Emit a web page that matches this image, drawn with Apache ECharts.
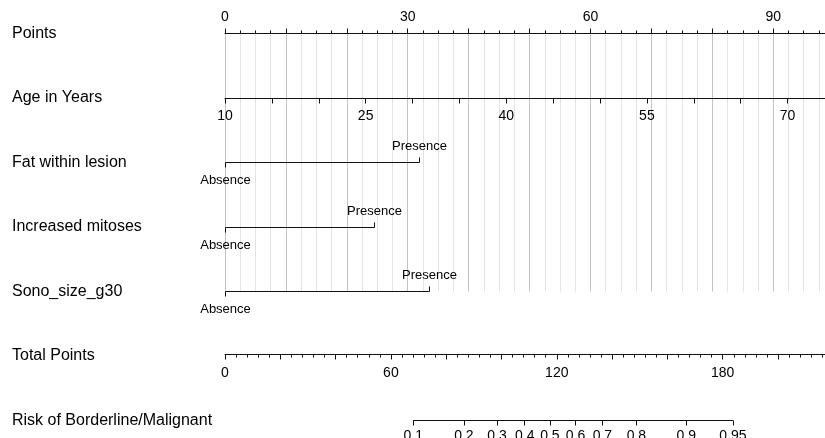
<!DOCTYPE html>
<html>
<head>
<meta charset="utf-8">
<script src="https://cdn.jsdelivr.net/npm/echarts@6/dist/echarts.min.js"></script>
<style>
  html, body { margin: 0; padding: 0; background: #fff; }
  #chart { width: 825px; height: 438px; }
</style>
</head>
<body>
<div id="chart"></div>
<script>
// ---- Nomogram rows ----
const rowNames = ['Points', 'Age in Years', 'Fat within lesion', 'Increased mitoses', 'Sono_size_g30'];
const totalRowName = 'Total Points';
const riskRowName = 'Risk of Borderline/Malignant';

// ---- Points scale ----
const pointsMax = 98.5;
const pointsLabels = [0, 30, 60, 90];

// ---- Age in years (10 years = 0 points) ----
const ageMin = 10;
const ageMax = 74;
const ageLabels = [10, 25, 40, 55, 70];

// ---- Categorical predictors: points for [Absence, Presence] ----
const catLevels = ['Absence', 'Presence'];
const fatPoints = [0, 32];
const mitosesPoints = [0, 24.5];
const sonoPoints = [0, 33.5];

// ---- Total points scale ----
const totalMax = 217;
const totalLabels = [0, 60, 120, 180];

// ---- Predicted risk and where it falls on the total points scale ----
const riskLabels = ['0.1', '0.2', '0.3', '0.4', '0.5', '0.6', '0.7', '0.8', '0.9', '0.95'];
const riskTotalPoints = [68.1, 86.4, 98.4, 108.4, 117.5, 126.8, 136.5, 148.8, 166.8, 183.7];

// ---- Styling ----
const FONT = 'Arial, "Liberation Sans", Helvetica, sans-serif';
const INK = '#111';
const LEFT = 225;
const TICK_FONT = 14;
const NAME_FONT = 16;
const LEVEL_FONT = 13;

function scaleAxis(extra) {
  return Object.assign({
    type: 'value',
    axisLine: { show: true, lineStyle: { color: INK, width: 1 } },
    axisTick: { show: true, length: 5, lineStyle: { color: INK, width: 1 } },
    axisLabel: { color: '#000', fontSize: TICK_FONT, fontFamily: FONT },
    splitLine: { show: false }
  }, extra);
}

const chart = echarts.init(document.getElementById('chart'), null, { renderer: 'canvas' });

const predictorRows = [
  [fatPoints[0], fatPoints[1], rowNames.indexOf('Fat within lesion')],
  [mitosesPoints[0], mitosesPoints[1], rowNames.indexOf('Increased mitoses')],
  [sonoPoints[0], sonoPoints[1], rowNames.indexOf('Sono_size_g30')]
];

const crisp = v => Math.round(v - 0.5) + 0.5;

const option = {
  animation: false,
  backgroundColor: '#fff',
  grid: [
    { left: LEFT, right: 0, top: 33.5, height: 258, outerBoundsMode: 'none' },
    { left: LEFT, right: 0, top: 97.5, height: 1, outerBoundsMode: 'none' },
    { left: LEFT, right: 0, top: 353.5, height: 1, outerBoundsMode: 'none' },
    { left: LEFT, right: 0, top: 419.5, height: 1, outerBoundsMode: 'none' }
  ],
  xAxis: [
    scaleAxis({
      gridIndex: 0, position: 'top', min: 0, max: pointsMax, interval: 10,
      minorTick: { show: true, splitNumber: 4, length: 3, lineStyle: { color: INK } },
      axisLabel: { customValues: pointsLabels, margin: 9, color: '#000', fontSize: TICK_FONT, fontFamily: FONT },
      splitLine: { show: true, lineStyle: { color: '#c2c2c2', width: 1 } },
      minorSplitLine: { show: true, lineStyle: { color: '#e3e3e3', width: 1 } }
    }),
    scaleAxis({
      gridIndex: 1, position: 'bottom', min: ageMin, max: ageMax, interval: 5,
      axisLabel: { customValues: ageLabels, margin: 11, color: '#000', fontSize: TICK_FONT, fontFamily: FONT }
    }),
    scaleAxis({
      gridIndex: 2, position: 'bottom', min: 0, max: totalMax, interval: 20,
      minorTick: { show: true, splitNumber: 5, length: 3, lineStyle: { color: INK } },
      axisLabel: { customValues: totalLabels, margin: 12, color: '#000', fontSize: TICK_FONT, fontFamily: FONT }
    }),
    scaleAxis({
      gridIndex: 3, position: 'bottom', min: 0, max: totalMax,
      axisLine: { show: false },
      axisTick: { show: true, customValues: riskTotalPoints, length: 5, lineStyle: { color: INK } },
      axisLabel: {
        customValues: riskTotalPoints, margin: 9, color: '#000', fontSize: TICK_FONT, fontFamily: FONT,
        formatter: function (v) {
          let best = 0;
          riskTotalPoints.forEach((p, i) => { if (Math.abs(p - v) < Math.abs(riskTotalPoints[best] - v)) best = i; });
          return riskLabels[best];
        }
      }
    })
  ],
  yAxis: [
    {
      gridIndex: 0, type: 'category', data: rowNames, inverse: true, boundaryGap: false,
      axisLine: { show: false }, axisTick: { show: false }, splitLine: { show: false },
      axisLabel: { align: 'left', margin: LEFT - 12, padding: [3, 0, 0, 0], color: '#000', fontSize: NAME_FONT, fontFamily: FONT }
    },
    { gridIndex: 1, type: 'value', min: 0, max: 1, show: false },
    { gridIndex: 2, type: 'value', min: 0, max: 1, show: false },
    { gridIndex: 3, type: 'value', min: 0, max: 1, show: false }
  ],
  graphic: [
    { type: 'text', x: 12, y: 355.5, style: { text: totalRowName, fill: '#000', fontSize: NAME_FONT, fontFamily: FONT, verticalAlign: 'middle' } },
    { type: 'text', x: 12, y: 420.5, style: { text: riskRowName, fill: '#000', fontSize: NAME_FONT, fontFamily: FONT, verticalAlign: 'middle' } }
  ],
  series: [
    {
      // Absence / Presence segments for the binary predictors
      type: 'custom',
      xAxisIndex: 0, yAxisIndex: 0,
      data: predictorRows,
      encode: { x: [0, 1], y: 2 },
      renderItem: function (params, api) {
        const row = api.value(2);
        const a = api.coord([api.value(0), row]);
        const b = api.coord([api.value(1), row]);
        const y = crisp(a[1]);
        const x0 = crisp(a[0]);
        const x1 = crisp(b[0]);
        const st = { stroke: INK, lineWidth: 1 };
        return {
          type: 'group',
          children: [
            { type: 'line', shape: { x1: x0, y1: y, x2: x1, y2: y }, style: st },
            { type: 'line', shape: { x1: x0, y1: y, x2: x0, y2: y + 5 }, style: st },
            { type: 'line', shape: { x1: x1, y1: y, x2: x1, y2: y - 5 }, style: st },
            { type: 'text', style: { text: catLevels[0], x: x0, y: y + 18, align: 'center', verticalAlign: 'middle', fill: '#000', fontSize: LEVEL_FONT, fontFamily: FONT } },
            { type: 'text', style: { text: catLevels[1], x: x1, y: y - 16, align: 'center', verticalAlign: 'middle', fill: '#000', fontSize: LEVEL_FONT, fontFamily: FONT } }
          ]
        };
      }
    },
    {
      // Span of the risk scale
      type: 'line',
      xAxisIndex: 3, yAxisIndex: 3,
      data: [[riskTotalPoints[0], 0], [riskTotalPoints[riskTotalPoints.length - 1], 0]],
      symbol: 'none', silent: true,
      lineStyle: { color: INK, width: 1 }
    }
  ]
};

chart.setOption(option);
</script>
</body>
</html>
